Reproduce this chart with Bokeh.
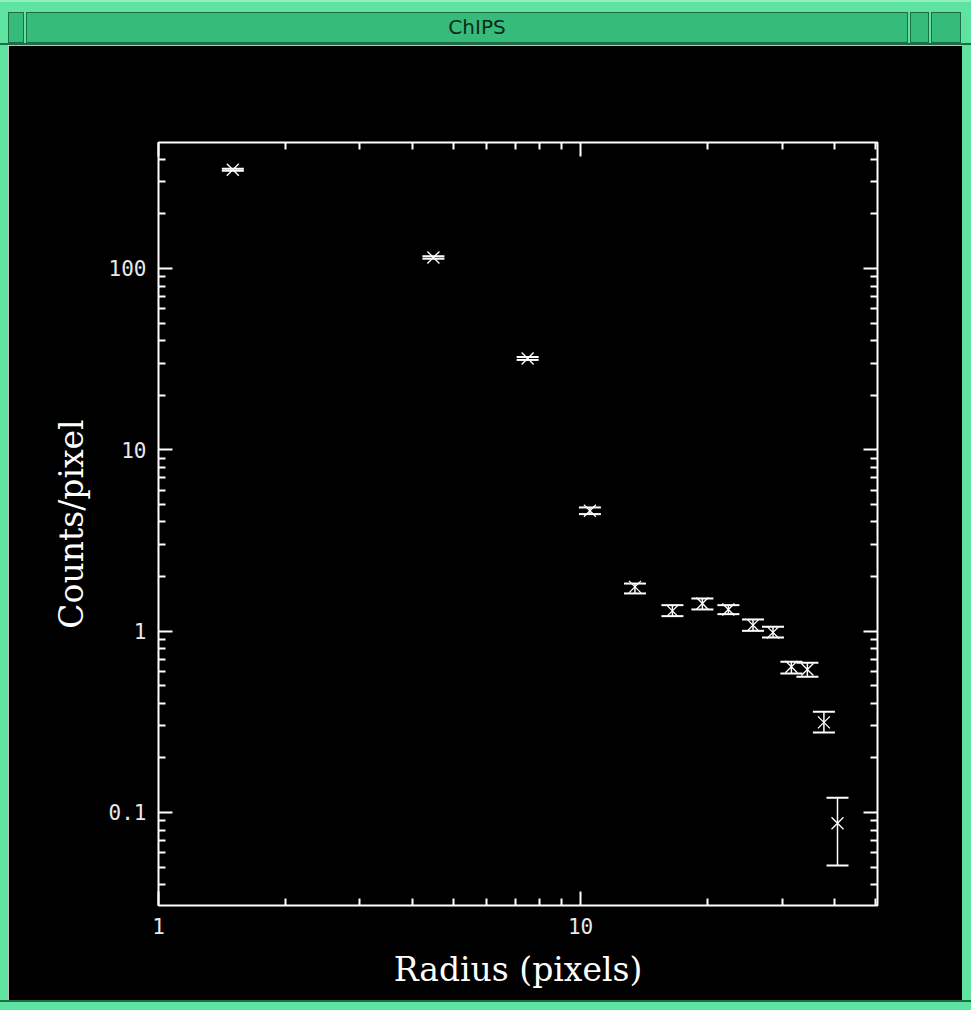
from bokeh.plotting import figure
from bokeh.models import (Range1d, LogAxis, FixedTicker, Whisker, TeeHead,
                          ColumnDataSource, Div)
from bokeh.layouts import column, row
from bokeh.embed import file_html
from bokeh.resources import INLINE

# ---- data ----
radius = [1.50, 4.48, 7.49, 10.52, 13.45, 16.50, 19.43, 22.39, 25.61, 28.56, 31.57, 34.45, 37.7, 40.6]
counts = [350.0, 115.0, 31.9, 4.61, 1.755, 1.294, 1.421, 1.317, 1.079, 0.984, 0.636, 0.615, 0.314, 0.0873]
counts_hi = [355.0, 116.8, 32.5, 4.81, 1.83, 1.391, 1.514, 1.391, 1.160, 1.056, 0.677, 0.669, 0.359, 0.1205]
counts_lo = [345.5, 113.2, 31.3, 4.42, 1.614, 1.210, 1.317, 1.241, 1.004, 0.923, 0.584, 0.560, 0.276, 0.0510]

x_ticks = [1, 10]
x_tick_labels = ["1", "10"]
y_ticks = [0.1, 1, 10, 100]
y_tick_labels = ["0.1", "1", "10", "100"]

x_label = "Radius (pixels)"
y_label = "Counts/pixel"
window_title = "ChIPS"

X_MIN, X_MAX = 1.0, 50.5
Y_MIN, Y_MAX = 0.0307, 495.0

x_minor = [m * 10 ** e for e in (0, 1) for m in range(2, 10) if m * 10 ** e <= X_MAX]
y_minor = [m * 10.0 ** e for e in range(-2, 3) for m in range(2, 10)]

GREEN = "#36bb7b"
LIGHT = "#5fe3a1"
DARK = "#1d6e46"

# ---- main plot (window interior) ----
PW, PH = 954, 955
p = figure(width=PW, height=PH, x_axis_type="log", y_axis_type="log",
           x_range=Range1d(X_MIN, X_MAX), y_range=Range1d(Y_MIN, Y_MAX),
           output_backend="svg", toolbar_location=None,
           background_fill_color="black", border_fill_color="black",
           min_border_left=150, min_border_right=85,
           min_border_top=97, min_border_bottom=95,
           outline_line_color="white", outline_line_width=2, margin=0)
p.grid.visible = False

bottom_axis = p.below[0]
left_axis = p.left[0]

xt = FixedTicker(ticks=x_ticks, minor_ticks=x_minor)
yt = FixedTicker(ticks=y_ticks, minor_ticks=y_minor)

bottom_axis.ticker = xt
left_axis.ticker = yt
bottom_axis.major_label_overrides = dict(zip(x_ticks, x_tick_labels))
left_axis.major_label_overrides = dict(zip(y_ticks, y_tick_labels))

top_axis = LogAxis(ticker=xt)
right_axis = LogAxis(ticker=yt)
p.add_layout(top_axis, "above")
p.add_layout(right_axis, "right")

for ax in [bottom_axis, left_axis, top_axis, right_axis]:
    ax.axis_line_color = None
    ax.major_tick_line_color = "white"
    ax.minor_tick_line_color = "white"
    ax.major_tick_line_width = 2
    ax.minor_tick_line_width = 2
    ax.major_tick_in = 14
    ax.major_tick_out = 0
    ax.minor_tick_in = 7
    ax.minor_tick_out = 0
    ax.major_label_text_color = "#e8e8e8"
    ax.major_label_text_font = "DejaVu Sans Mono"
    ax.major_label_text_font_size = "21px"
    ax.axis_label_text_color = "white"
    ax.axis_label_text_font = "DejaVu Serif"
    ax.axis_label_text_font_size = "33px"
    ax.axis_label_text_font_style = "normal"

for ax in [top_axis, right_axis]:
    ax.major_label_text_color = None

bottom_axis.axis_label = x_label
left_axis.axis_label = y_label
bottom_axis.major_label_standoff = 12
left_axis.major_label_standoff = 12
bottom_axis.axis_label_standoff = 13
left_axis.axis_label_standoff = 15

src = ColumnDataSource(dict(x=radius, y=counts, hi=counts_hi, lo=counts_lo))

whisk = Whisker(base="x", upper="hi", lower="lo", source=src, dimension="height",
                line_color="white", line_width=1.5,
                upper_head=TeeHead(size=22, line_color="white", line_width=2),
                lower_head=TeeHead(size=22, line_color="white", line_width=2))
p.add_layout(whisk)

p.scatter("x", "y", source=src, marker="x", size=17, line_color="white", line_width=1.3)

# ---- window chrome ----
def box(l, t, w, h, extra=""):
    return (f'<div style="position:absolute;left:{l}px;top:{t}px;width:{w}px;height:{h}px;'
            f'background:{GREEN};border:1px solid {DARK};box-sizing:border-box;{extra}"></div>')


title_html = (
    f'<div style="position:relative;width:971px;height:45px;background:{LIGHT};overflow:hidden;">'
    f'<div style="position:absolute;left:0;top:0;width:971px;height:2px;background:#8ff0bf"></div>'
    + box(8, 12, 16, 31)
    + box(26, 12, 882, 31)
    + box(910, 12, 19, 31)
    + box(931, 12, 30, 31)
    + f'<div style="position:absolute;left:26px;top:12px;width:902px;height:31px;'
      f'text-align:center;line-height:31px;font-family:\'DejaVu Sans\';font-size:20px;'
      f'color:#0b2a19;">{window_title}</div>'
    + f'<div style="position:absolute;left:0;top:43px;width:971px;height:2px;background:{DARK}"></div>'
    + '</div>'
)

title_bar = Div(text=title_html, width=971, height=45, margin=0)
left_edge = Div(text="", width=8, height=PH, margin=0,
                styles={"background-color": LIGHT})
right_edge = Div(text="", width=9, height=PH, margin=0,
                 styles={"background-color": LIGHT})
bottom_edge = Div(text="", width=971, height=10, margin=0,
                  styles={"background-color": LIGHT, "border-top": f"2px solid {DARK}",
                          "box-sizing": "border-box"})

layout = column(title_bar, row(left_edge, p, right_edge, spacing=0, margin=0),
                bottom_edge, spacing=0, margin=0)

open("out.html", "w").write(file_html(layout, INLINE))
